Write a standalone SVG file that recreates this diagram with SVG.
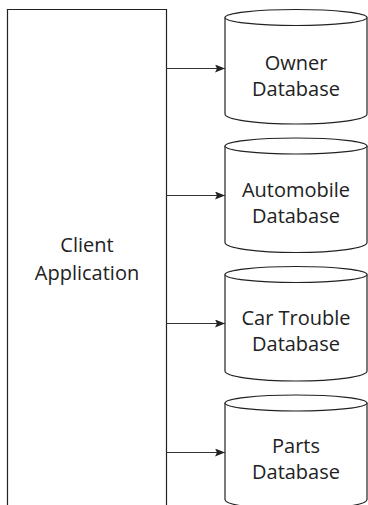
<svg xmlns="http://www.w3.org/2000/svg" width="368" height="505" viewBox="0 0 368 505">
<style>
.s{fill:#fff;stroke:#222;stroke-width:1.2}
.t{font-family:"Open Sans",sans-serif;font-size:20px;fill:#222;text-anchor:middle}
.c{stroke:#333;stroke-width:1.2;fill:none}
</style>
<defs>
<marker id="ah" markerWidth="10" markerHeight="8" refX="10" refY="4" orient="auto" markerUnits="userSpaceOnUse">
<path d="M0,0 L10,4 L0,8 L2,4 Z" fill="#222"/>
</marker>
</defs>
<rect width="368" height="505" fill="#fff"/>
<g id="client">
<path class="s" d="M7.5,512 V9.5 H166.5 V512"/>
<text class="t" x="87" y="252">Client</text>
<text class="t" x="87" y="280">Application</text>
</g>
<g id="connectors">
<line class="c" x1="166.5" y1="68.5" x2="225" y2="68.5" marker-end="url(#ah)"/>
<line class="c" x1="166.5" y1="195.5" x2="225" y2="195.5" marker-end="url(#ah)"/>
<line class="c" x1="166.5" y1="323.5" x2="225" y2="323.5" marker-end="url(#ah)"/>
<line class="c" x1="166.5" y1="452.5" x2="225" y2="452.5" marker-end="url(#ah)"/>
</g>
<g id="owner">
<path class="s" d="M225,17.5 V114 A71,10 0 0 0 367,114 V17.5"/>
<ellipse class="s" cx="296" cy="17.5" rx="71" ry="8"/>
<text class="t" x="296" y="70">Owner</text>
<text class="t" x="296" y="96">Database</text>
</g>
<g id="automobile">
<path class="s" d="M225,146 V242.5 A71,10 0 0 0 367,242.5 V146"/>
<ellipse class="s" cx="296" cy="146" rx="71" ry="8"/>
<text class="t" x="296" y="197">Automobile</text>
<text class="t" x="296" y="223">Database</text>
</g>
<g id="cartrouble">
<path class="s" d="M225,274.5 V371 A71,10 0 0 0 367,371 V274.5"/>
<ellipse class="s" cx="296" cy="274.5" rx="71" ry="8"/>
<text class="t" x="296" y="325">Car Trouble</text>
<text class="t" x="296" y="351">Database</text>
</g>
<g id="parts">
<path class="s" d="M225,403 V499.5 A71,10 0 0 0 367,499.5 V403"/>
<ellipse class="s" cx="296" cy="403" rx="71" ry="8"/>
<text class="t" x="296" y="453">Parts</text>
<text class="t" x="296" y="479">Database</text>
</g>
</svg>
